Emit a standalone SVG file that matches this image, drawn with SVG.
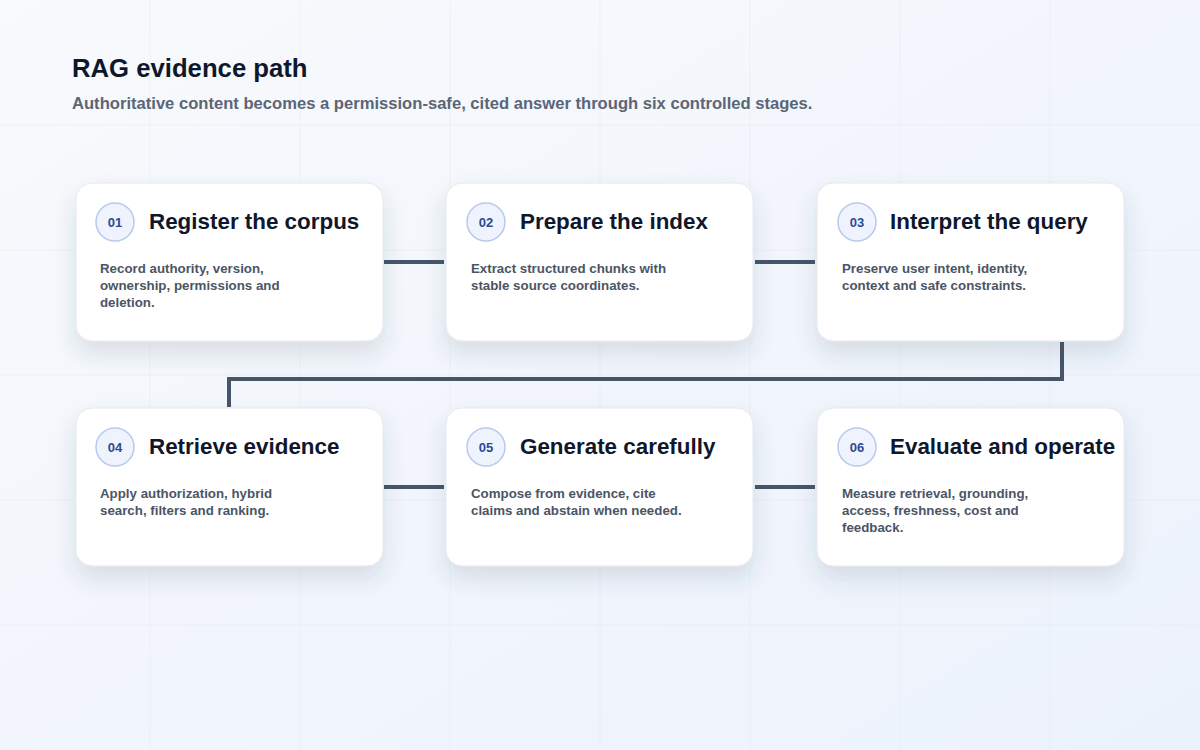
<svg xmlns="http://www.w3.org/2000/svg" width="1200" height="750" viewBox="0 0 1200 750">
<defs>
<linearGradient id="bg" x1="0" y1="0" x2="1" y2="1">
<stop offset="0" stop-color="#f8fafc"/>
<stop offset="1" stop-color="#ecf2fc"/>
</linearGradient>
<filter id="sh" x="-20%" y="-20%" width="140%" height="160%">
<feDropShadow dx="0" dy="12" stdDeviation="11" flood-color="#334155" flood-opacity="0.14"/>
</filter>
<style>
.grid{stroke:#e5eaf1;stroke-width:1;opacity:0.55}
.card{fill:#ffffff;stroke:#e2e8f0;stroke-width:1;filter:url(#sh)}
.badge{fill:#eef3fd;stroke:#b9c9ec;stroke-width:1.5}
.num{font-family:"Liberation Sans",Arial,sans-serif;font-size:13px;font-weight:700;fill:#2d4a94;text-anchor:middle}
.ttl{font-family:"Liberation Sans",Arial,sans-serif;font-size:22.4px;font-weight:700;fill:#0f172a}
.body{font-family:"Liberation Sans",Arial,sans-serif;font-size:13.3px;font-weight:700;fill:#4b5565}
.conn{fill:none;stroke:#475569;stroke-width:4}
</style>
</defs>
<rect width="1200" height="750" fill="url(#bg)"/>
<g id="grid">
<line class="grid" x1="150" y1="0" x2="150" y2="750"/>
<line class="grid" x1="300" y1="0" x2="300" y2="750"/>
<line class="grid" x1="450" y1="0" x2="450" y2="750"/>
<line class="grid" x1="600" y1="0" x2="600" y2="750"/>
<line class="grid" x1="750" y1="0" x2="750" y2="750"/>
<line class="grid" x1="900" y1="0" x2="900" y2="750"/>
<line class="grid" x1="1050" y1="0" x2="1050" y2="750"/>
<line class="grid" x1="0" y1="125" x2="1200" y2="125"/>
<line class="grid" x1="0" y1="250" x2="1200" y2="250"/>
<line class="grid" x1="0" y1="375" x2="1200" y2="375"/>
<line class="grid" x1="0" y1="500" x2="1200" y2="500"/>
<line class="grid" x1="0" y1="625" x2="1200" y2="625"/>
</g>
<g id="header">
<text x="72" y="77" font-family="Liberation Sans,Arial,sans-serif" font-size="25.7" font-weight="700" fill="#0f172a">RAG evidence path</text>
<text x="72" y="109" font-family="Liberation Sans,Arial,sans-serif" font-size="16.6" font-weight="700" fill="#5b6577">Authoritative content becomes a permission-safe, cited answer through six controlled stages.</text>
</g>
<g id="connectors">
<line class="conn" x1="384" y1="262" x2="444" y2="262"/>
<line class="conn" x1="755" y1="262" x2="815" y2="262"/>
<polyline class="conn" points="1062,342 1062,379 229,379 229,407"/>
<line class="conn" x1="384" y1="487" x2="444" y2="487"/>
<line class="conn" x1="755" y1="487" x2="815" y2="487"/>
</g>
<g id="node1">
<rect class="card" x="76" y="183" width="307" height="158" rx="16"/>
<circle class="badge" cx="115" cy="222" r="19"/>
<text class="num" x="115" y="227">01</text>
<text class="ttl" x="149" y="229">Register the corpus</text>
<text class="body" x="100" y="273">Record authority, version,</text>
<text class="body" x="100" y="290">ownership, permissions and</text>
<text class="body" x="100" y="307">deletion.</text>
</g>
<g id="node2">
<rect class="card" x="446" y="183" width="307" height="158" rx="16"/>
<circle class="badge" cx="486" cy="222" r="19"/>
<text class="num" x="486" y="227">02</text>
<text class="ttl" x="520" y="229">Prepare the index</text>
<text class="body" x="471" y="273">Extract structured chunks with</text>
<text class="body" x="471" y="290">stable source coordinates.</text>
</g>
<g id="node3">
<rect class="card" x="817" y="183" width="307" height="158" rx="16"/>
<circle class="badge" cx="857" cy="222" r="19"/>
<text class="num" x="857" y="227">03</text>
<text class="ttl" x="890" y="229">Interpret the query</text>
<text class="body" x="842" y="273">Preserve user intent, identity,</text>
<text class="body" x="842" y="290">context and safe constraints.</text>
</g>
<g id="node4">
<rect class="card" x="76" y="408" width="307" height="158" rx="16"/>
<circle class="badge" cx="115" cy="447" r="19"/>
<text class="num" x="115" y="452">04</text>
<text class="ttl" x="149" y="454">Retrieve evidence</text>
<text class="body" x="100" y="498">Apply authorization, hybrid</text>
<text class="body" x="100" y="515">search, filters and ranking.</text>
</g>
<g id="node5">
<rect class="card" x="446" y="408" width="307" height="158" rx="16"/>
<circle class="badge" cx="486" cy="447" r="19"/>
<text class="num" x="486" y="452">05</text>
<text class="ttl" x="520" y="454">Generate carefully</text>
<text class="body" x="471" y="498">Compose from evidence, cite</text>
<text class="body" x="471" y="515">claims and abstain when needed.</text>
</g>
<g id="node6">
<rect class="card" x="817" y="408" width="307" height="158" rx="16"/>
<circle class="badge" cx="857" cy="447" r="19"/>
<text class="num" x="857" y="452">06</text>
<text class="ttl" x="890" y="454">Evaluate and operate</text>
<text class="body" x="842" y="498">Measure retrieval, grounding,</text>
<text class="body" x="842" y="515">access, freshness, cost and</text>
<text class="body" x="842" y="532">feedback.</text>
</g>
</svg>
